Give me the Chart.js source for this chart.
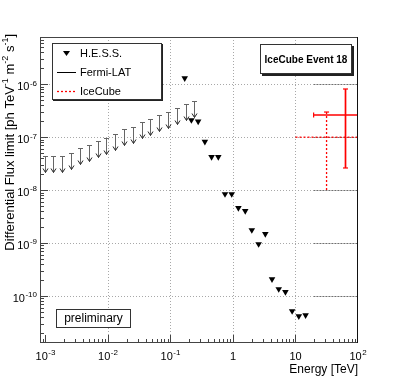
<!DOCTYPE html>
<html lang="en">
<head>
  <meta charset="UTF-8">
  <title>IceCube Event 18 - flux limits</title>
  <script src="https://cdn.jsdelivr.net/npm/chart.js"></script>
  <style>
    body { margin: 0; background: #fff; }
    #wrap { width: 399px; height: 383px; }
  </style>
</head>
<body>
<div id="wrap"><canvas id="chart" width="399" height="383"></canvas></div>
<script>
// H.E.S.S. upper limits (energy in TeV, flux in ph TeV^-1 m^-2 s^-1)
const hessEnergy = [0.169, 0.216, 0.277, 0.355, 0.454, 0.582, 0.745, 0.954, 1.22, 1.57,
                    2.00, 2.57, 3.29, 4.21, 5.39, 6.90, 8.84, 11.3, 14.5];
const hessFlux = [1.31e-6, 2.11e-7, 1.98e-7, 8.22e-8, 4.23e-8, 4.23e-8, 8.43e-9, 8.43e-9, 4.59e-9, 4.03e-9,
                  1.76e-9, 9.57e-10, 1.48e-9, 2.08e-10, 1.35e-10, 1.19e-10, 5.18e-11, 4.16e-11, 4.34e-11];

// Fermi-LAT upper limits
const fermiEnergy = [0.000971, 0.00134, 0.00186, 0.00257, 0.00356, 0.00492, 0.00681, 0.00942, 0.0130,
                     0.0180, 0.0249, 0.0344, 0.0476, 0.0659, 0.0912, 0.126, 0.175, 0.242];
const fermiFlux = [4.42e-8, 4.51e-8, 4.51e-8, 5.02e-8, 6.25e-8, 7.13e-8, 8.30e-8, 9.66e-8, 1.15e-7,
                   1.40e-7, 1.59e-7, 1.90e-7, 2.21e-7, 2.63e-7, 3.06e-7, 3.61e-7, 4.19e-7, 4.90e-7];

// IceCube event 18 (solid and dashed crosses)
const iceEnergy = [63.1, 31.4];
const iceEnergyLow = [19.5, 10];
const iceEnergyHigh = [200, 200];
const iceFlux = [2.63e-7, 1e-7];
const iceFluxLow = [2.62e-8, 1e-8];
const iceFluxHigh = [8.15e-7, 2.99e-7];
const iceDashed = [false, true];

// axes
const xMin = 8.17e-4, xMax = 100;
const yMin = 1.29e-11, yMax = 7.83e-6;
const xTicks = [1e-3, 1e-2, 1e-1, 1, 10, 100];
const xTickText = [['10', '-3'], ['10', '-2'], ['10', '-1'], ['1', ''], ['10', ''], ['10', '2']];
const yTicks = [1e-6, 1e-7, 1e-8, 1e-9, 1e-10];
const yTickText = [['10', '-6'], ['10', '-7'], ['10', '-8'], ['10', '-9'], ['10', '-10']];
const yTitle = [['Differential Flux limit [ph TeV', false], ['-1', true], [' m', false], ['-2', true],
                [' s', false], ['-1', true], [']', false]];
const xTitle = 'Energy [TeV]';
const legendItems = ['H.E.S.S.', 'Fermi-LAT', 'IceCube'];

const FONT = '"Liberation Sans", Arial, Helvetica, sans-serif';

function hline(ctx, x1, x2, y) { ctx.beginPath(); ctx.moveTo(x1, y); ctx.lineTo(x2, y); ctx.stroke(); }
function vline(ctx, x, y1, y2) { ctx.beginPath(); ctx.moveTo(x, y1); ctx.lineTo(x, y2); ctx.stroke(); }

// base text with a raised exponent; align = 'left' | 'center' | 'right'
function supText(ctx, base, sup, x, y, align, size) {
  ctx.font = size + 'px ' + FONT;
  const wb = ctx.measureText(base).width;
  ctx.font = Math.round(size * 0.72) + 'px ' + FONT;
  const ws = sup ? ctx.measureText(sup).width + 0.5 : 0;
  const w = wb + ws;
  let sx = align === 'right' ? x - w : align === 'center' ? x - w / 2 : x;
  ctx.textAlign = 'left';
  ctx.textBaseline = 'alphabetic';
  ctx.font = size + 'px ' + FONT;
  ctx.fillText(base, sx, y);
  if (sup) {
    ctx.font = Math.round(size * 0.72) + 'px ' + FONT;
    ctx.fillText(sup, sx + wb + 0.5, y - size * 0.42);
  }
}

function box(ctx, x1, y1, x2, y2, shadow) {
  ctx.setLineDash([]);
  ctx.fillStyle = '#fff';
  ctx.fillRect(x1, y1, x2 - x1, y2 - y1);
  if (shadow) {
    ctx.fillStyle = '#222';
    ctx.fillRect(x1 + shadow, y2, x2 - x1, shadow);
    ctx.fillRect(x2, y1 + shadow, shadow, y2 - y1);
  }
  ctx.strokeStyle = '#333';
  ctx.lineWidth = 1;
  ctx.strokeRect(x1 + 0.5, y1 + 0.5, x2 - x1 - 1, y2 - y1 - 1);
}

const rootStyle = {
  id: 'rootStyle',
  beforeDatasetsDraw(chart) {
    const { ctx, chartArea: a, scales: { x, y } } = chart;
    ctx.save();
    ctx.lineWidth = 1;
    ctx.setLineDash([1, 2]);
    ctx.strokeStyle = '#a8a8a8';
    xTicks.forEach(v => {
      const px = Math.round(x.getPixelForValue(v)) + 0.5;
      if (px < a.left + 8 || px > a.right - 2) return;
      vline(ctx, px, a.top, a.bottom);
    });
    yTicks.forEach(v => {
      const py = Math.round(y.getPixelForValue(v)) + 0.5;
      hline(ctx, a.left, a.right, py);
    });
    // darker stretch of the grid on the right side
    ctx.strokeStyle = '#333';
    yTicks.forEach(v => {
      const py = Math.round(y.getPixelForValue(v)) + 0.5;
      hline(ctx, x.getPixelForValue(20), a.right, py);
    });
    ctx.restore();
  },
  afterDatasetsDraw(chart) {
    const { ctx, chartArea: a, scales: { x, y } } = chart;
    ctx.save();

    // Fermi-LAT upper limit arrows
    chart.getDatasetMeta(1).data.forEach(pt => {
      const px = Math.round(pt.x) + 0.5, py = Math.round(pt.y) + 0.5;
      ctx.strokeStyle = '#666';
      ctx.lineWidth = 1;
      hline(ctx, px - 2.5, px + 2.5, py);
      vline(ctx, px, py, py + 16);
      ctx.strokeStyle = '#222';
      ctx.beginPath();
      ctx.moveTo(px - 2.5, py + 12);
      ctx.lineTo(px, py + 16);
      ctx.lineTo(px + 2.5, py + 12);
      ctx.stroke();
    });

    // IceCube crosses
    ctx.save();
    ctx.beginPath();
    ctx.rect(a.left, a.top, a.right - a.left, a.bottom - a.top);
    ctx.clip();
    ctx.strokeStyle = '#ff0000';
    chart.getDatasetMeta(2).data.forEach((pt, i) => {
      const cx = pt.x, cy = pt.y;
      const xl = x.getPixelForValue(iceEnergyLow[i]), xh = x.getPixelForValue(iceEnergyHigh[i]);
      const yl = y.getPixelForValue(iceFluxLow[i]), yh = y.getPixelForValue(iceFluxHigh[i]);
      ctx.lineWidth = iceDashed[i] ? 1.3 : 1.7;
      ctx.setLineDash(iceDashed[i] ? [2, 2] : []);
      hline(ctx, xl, xh, cy);
      vline(ctx, cx, yh, yl);
      ctx.setLineDash([]);
      ctx.lineWidth = 1.2;
      hline(ctx, cx - 2.5, cx + 2.5, yh);
      if (!iceDashed[i]) {
        vline(ctx, xl, cy - 2.5, cy + 2.5);
        hline(ctx, cx - 2.5, cx + 2.5, yl);
      }
    });
    ctx.restore();

    // frame
    ctx.setLineDash([]);
    ctx.strokeStyle = '#444';
    ctx.lineWidth = 1;
    ctx.strokeRect(a.left + 0.5, a.top + 0.5, a.right - a.left - 1, a.bottom - a.top - 1);
    ctx.strokeStyle = '#111';
    vline(ctx, a.right - 0.5, a.top, a.bottom);

    // ticks inside the frame
    ctx.strokeStyle = '#444';
    for (let d = -4; d <= 2; d++) {
      for (let k = 1; k <= 9; k++) {
        const v = k * Math.pow(10, d);
        if (v <= xMin || v >= xMax) continue;
        const px = Math.round(x.getPixelForValue(v)) + 0.5;
        vline(ctx, px, a.bottom, a.bottom - (k === 1 ? 8 : 4));
      }
    }
    for (let d = -12; d <= -5; d++) {
      for (let k = 1; k <= 9; k++) {
        const v = k * Math.pow(10, d);
        if (v <= yMin || v >= yMax) continue;
        const py = Math.round(y.getPixelForValue(v)) + 0.5;
        hline(ctx, a.left, a.left + (k === 1 ? 8 : 4), py);
      }
    }

    // tick labels
    ctx.fillStyle = '#000';
    xTicks.forEach((v, i) => {
      supText(ctx, xTickText[i][0], xTickText[i][1], x.getPixelForValue(v), a.bottom + 17, 'center', 11);
    });
    yTicks.forEach((v, i) => {
      supText(ctx, yTickText[i][0], yTickText[i][1], a.left - 3, y.getPixelForValue(v) + 6, 'right', 11);
    });

    // axis titles
    ctx.font = '12px ' + FONT;
    ctx.textAlign = 'right';
    ctx.textBaseline = 'alphabetic';
    ctx.fillText(xTitle, a.right, a.bottom + 30);

    ctx.save();
    ctx.translate(13.5, 34);
    ctx.rotate(-Math.PI / 2);
    let total = 0;
    yTitle.forEach(([t, s]) => {
      ctx.font = (s ? 9 : 13) + 'px ' + FONT;
      total += ctx.measureText(t).width;
    });
    let tx = -total;
    ctx.textAlign = 'left';
    yTitle.forEach(([t, s]) => {
      ctx.font = (s ? 9 : 13) + 'px ' + FONT;
      ctx.fillText(t, tx, s ? -5.5 : 0);
      tx += ctx.measureText(t).width;
    });
    ctx.restore();

    // legend
    box(ctx, 52, 43, 162, 100, 1);
    ctx.fillStyle = '#000';
    const rows = [53, 72, 91];
    ctx.beginPath();
    ctx.moveTo(63, rows[0] - 2);
    ctx.lineTo(70, rows[0] - 2);
    ctx.lineTo(66.5, rows[0] + 3);
    ctx.closePath();
    ctx.fill();
    ctx.strokeStyle = '#000';
    ctx.lineWidth = 1;
    hline(ctx, 57, 76, rows[1] + 0.5);
    ctx.strokeStyle = '#ff0000';
    ctx.lineWidth = 1.3;
    ctx.setLineDash([2, 2]);
    hline(ctx, 57, 76, rows[2] + 0.5);
    ctx.setLineDash([]);
    ctx.font = '11px ' + FONT;
    ctx.textAlign = 'left';
    ctx.textBaseline = 'middle';
    legendItems.forEach((t, i) => ctx.fillText(t, 80, rows[i] + 1));

    // label boxes
    box(ctx, 260, 44, 352, 74, 2);
    ctx.fillStyle = '#000';
    ctx.font = 'bold 10px ' + FONT;
    ctx.textAlign = 'center';
    ctx.textBaseline = 'middle';
    ctx.fillText('IceCube Event 18', 306, 60);

    box(ctx, 56, 309, 131, 328, 0);
    ctx.fillStyle = '#000';
    ctx.font = '12px ' + FONT;
    ctx.fillText('preliminary', 93.5, 319);

    ctx.restore();
  }
};

new Chart(document.getElementById('chart'), {
  type: 'scatter',
  data: {
    datasets: [
      {
        label: 'H.E.S.S.',
        data: hessEnergy.map((e, i) => ({ x: e, y: hessFlux[i] })),
        pointStyle: 'triangle',
        pointRotation: 180,
        pointRadius: 3.8,
        pointBackgroundColor: '#000',
        pointBorderColor: '#000',
        pointBorderWidth: 0
      },
      {
        label: 'Fermi-LAT',
        data: fermiEnergy.map((e, i) => ({ x: e, y: fermiFlux[i] })),
        pointRadius: 0
      },
      {
        label: 'IceCube',
        data: iceEnergy.map((e, i) => ({ x: e, y: iceFlux[i] })),
        pointRadius: 0,
        clip: false
      }
    ]
  },
  options: {
    responsive: false,
    animation: false,
    layout: { padding: { left: 40, right: 41, top: 37, bottom: 40 } },
    plugins: { legend: { display: false }, tooltip: { enabled: false } },
    scales: {
      x: { type: 'logarithmic', display: false, min: xMin, max: xMax },
      y: { type: 'logarithmic', display: false, min: yMin, max: yMax }
    }
  },
  plugins: [rootStyle]
});
</script>
</body>
</html>
